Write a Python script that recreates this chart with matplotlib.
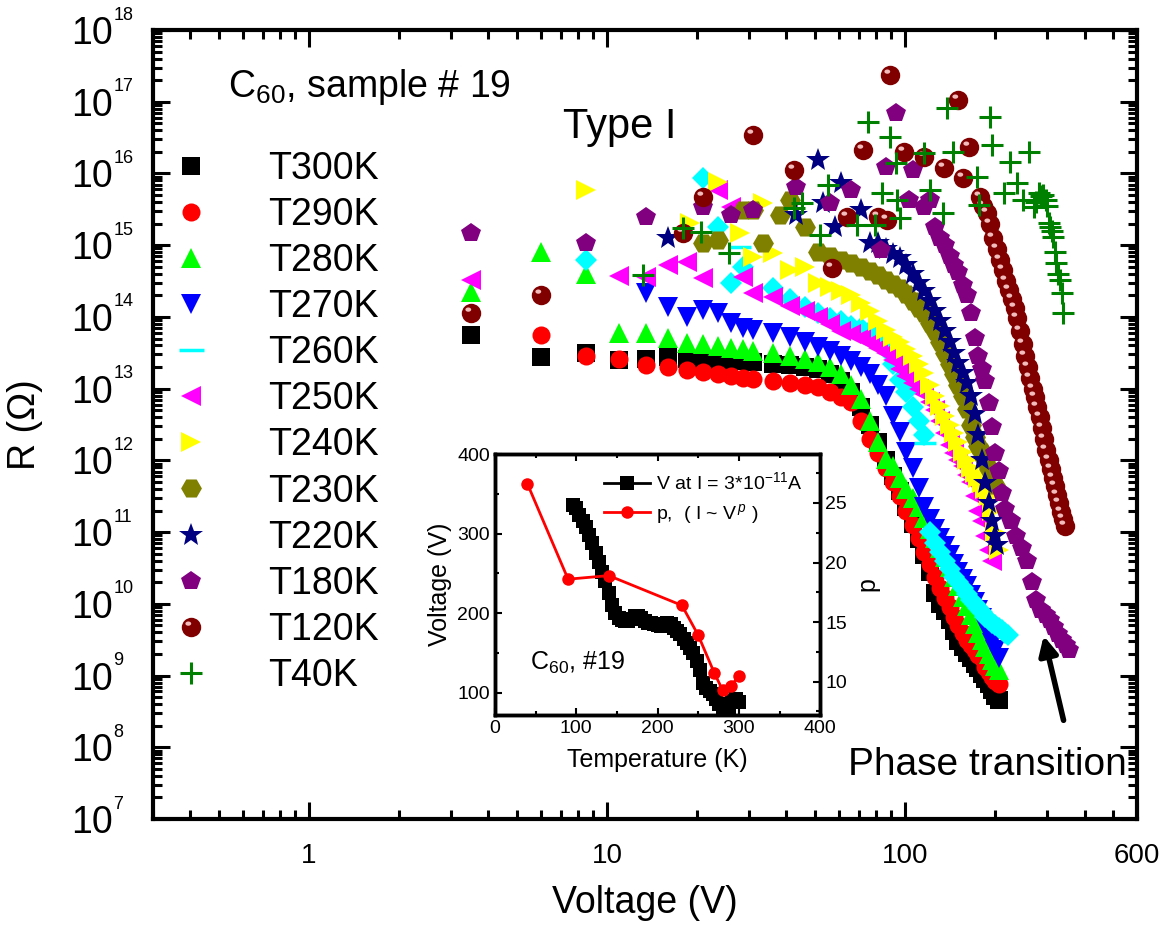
import numpy as np
import matplotlib
matplotlib.use("Agg")
import matplotlib.pyplot as plt
import matplotlib.transforms as mtransforms
from matplotlib.path import Path
from matplotlib.lines import Line2D
from matplotlib.legend_handler import HandlerTuple
from matplotlib.ticker import LogLocator, FixedLocator, NullFormatter, MultipleLocator, FuncFormatter

plt.rcParams['font.family'] = ['Liberation Sans', 'DejaVu Sans']
plt.rcParams['mathtext.fontset'] = 'custom'
plt.rcParams['mathtext.rm'] = 'Liberation Sans'
plt.rcParams['mathtext.it'] = 'Liberation Sans:italic'
plt.rcParams['mathtext.bf'] = 'Liberation Sans:bold'

# -----------------------------------
# R-V data, resistance given as log10(R / Ohm)
# -----------------------------------
V300 = [3.5, 6, 8.5, 11, 13.5, 16, 18.5, 21, 23.5, 26, 28.5, 31,
        36, 41, 46, 51, 56, 61, 66, 71, 76, 81, 86, 91, 96, 101, 106, 111, 116, 121, 126,
        131, 136, 141, 146, 151, 156, 161, 166, 171, 176, 181, 186, 191, 196, 201, 206]
lg300 = [13.75, 13.44, 13.50, 13.40, 13.42, 13.44, 13.42, 13.41, 13.40, 13.39, 13.38, 13.37,
         13.35, 13.33, 13.30, 13.27, 13.20, 13.10, 12.95, 12.75, 12.50, 12.25,
         12.00, 11.78, 11.58, 11.35, 11.12, 10.90, 10.68, 10.45, 10.15, 10.00,
         9.90, 9.78, 9.62, 9.48, 9.40, 9.32, 9.24, 9.16, 9.10, 9.02,
         8.95, 8.88, 8.80, 8.72, 8.66]

V290 = [6, 8.5, 11, 13.5, 16, 18.5, 21, 23.5, 26, 28.5, 31,
        36, 41, 46, 51, 56, 61, 66, 71, 76, 81, 86, 91, 96, 101, 106, 111, 116, 121, 126,
        131, 136, 141, 146, 151, 156, 161, 166, 171, 176, 181, 186, 191, 196, 201, 206]
lg290 = [13.75, 13.45, 13.41, 13.33, 13.30, 13.26, 13.23, 13.20, 13.17, 13.15, 13.13,
         13.11, 13.08, 13.05, 13.02, 12.96, 12.88, 12.82, 12.55, 12.30, 12.10,
         11.90, 11.70, 11.50, 11.30, 11.10, 10.92, 10.72, 10.55, 10.38, 10.22,
         10.08, 9.95, 9.82, 9.70, 9.60, 9.50, 9.42, 9.35, 9.28, 9.25,
         9.12, 9.05, 8.98, 8.93, 8.88]

V280 = [3.5, 6, 8.5, 11, 13.5, 16, 18.5, 21, 23.5, 26, 28.5, 31,
        36, 41, 46, 51, 56, 61, 66, 71, 76, 81, 86, 91, 96, 101, 106, 111, 116, 121, 126,
        131, 136, 141, 146, 151, 156, 161, 166, 171, 176, 181, 186, 191, 196, 201, 206]
lg280 = [14.35, 14.90, 14.60, 13.77, 13.77, 13.70, 13.64, 13.62, 13.60, 13.57, 13.55, 13.53,
         13.50, 13.46, 13.42, 13.37, 13.30, 13.20, 13.05, 12.85, 12.55, 12.25,
         12.02, 11.92, 11.75, 11.60, 11.48, 11.35, 11.20, 11.05, 10.92, 10.78,
         10.65, 10.52, 10.38, 10.25, 10.10, 9.97, 9.85, 9.72, 9.60, 9.50,
         9.40, 9.30, 9.22, 9.14, 9.08]

V270 = [13.5, 16, 18.5, 21, 23.5, 26, 28.5, 31,
        36, 41, 46, 51, 56, 61, 66, 71, 76, 81, 86, 91, 96, 101, 106, 111, 116, 121, 126,
        131, 136, 141, 146, 151, 156, 161, 166, 171, 176, 181, 186, 191, 196, 201, 206]
lg270 = [14.33, 14.14, 14.00, 14.10, 14.05, 13.91, 13.85, 13.82,
         13.77, 13.72, 13.65, 13.58, 13.52, 13.45, 13.38, 13.30, 13.20, 13.05,
         12.90, 12.62, 12.40, 12.12, 11.90, 11.62, 11.35, 11.18, 11.05, 10.92,
         10.80, 10.68, 10.55, 10.45, 10.35, 10.25, 10.12, 10.02, 9.92, 9.80,
         9.68, 9.58, 9.45, 9.35, 9.25]

V260 = [8.5, 21, 23.5, 26, 28.5,
        36, 41, 46, 51, 56, 61, 66, 71, 76, 81, 86, 91, 96, 101, 106, 111, 116, 121, 126,
        131, 136, 141, 146, 151, 156, 161, 166, 171, 176, 181, 186, 191, 196, 201, 206,
        211, 216, 221]
lg260 = [14.79, 15.94, 15.25, 14.47, 14.69,
         14.41, 14.25, 14.14, 14.05, 13.98, 13.95, 13.88, 13.84, 13.80, 13.72,
         13.55, 13.35, 13.12, 12.95, 12.75, 12.55, 12.35, 11.00, 10.85, 10.72,
         10.60, 10.48, 10.38, 10.30, 10.22, 10.14, 10.06, 10.00, 9.94, 9.88,
         9.82, 9.78, 9.74, 9.70, 9.66, 9.63, 9.60, 9.57]
V260_dash = [28, 117]
lg260_dash = [14.97, 12.24]

V250 = [3.5, 11, 13.5, 16, 18.5, 21, 23.5, 26, 28.5, 31,
        36, 41, 46, 51, 56, 61, 66, 71, 76, 81, 86, 91, 96, 101, 106, 111, 116, 121, 126,
        131, 136, 141, 146, 151, 156, 161, 166, 171, 176, 181, 186, 191, 196]
lg250 = [14.51, 14.57, 14.56, 14.72, 14.76, 14.54, 15.77, 15.53, 14.56, 14.33,
         14.28, 14.15, 14.08, 14.00, 13.90, 13.80, 13.76, 13.70, 13.64, 13.57,
         13.50, 13.40, 13.28, 13.18, 13.08, 13.00, 12.93, 12.82, 12.70, 12.55,
         12.38, 12.22, 12.10, 12.00, 11.92, 11.80, 11.70, 11.50, 11.30, 11.15,
         10.95, 10.75, 10.60]

V240 = [8.5, 19, 23.5, 28, 31, 33.5,
        36, 41, 46, 51, 56, 61, 66, 71, 76, 81, 86, 91, 96, 101, 106, 111, 116, 121, 126,
        131, 136, 141, 146, 151, 156, 161, 166, 171, 176, 181, 186, 191, 196, 201, 206]
lg240 = [15.77, 15.31, 15.88, 15.17, 14.83, 15.59,
         14.89, 14.65, 14.69, 14.47, 14.42, 14.36, 14.30, 14.20, 14.08, 13.95,
         13.82, 13.72, 13.65, 13.55, 13.45, 13.35, 13.22, 13.05, 12.90, 12.76,
         12.62, 12.50, 12.38, 12.25, 12.12, 12.00, 11.90, 11.82, 11.75, 11.68,
         11.60, 11.50, 11.30, 11.00, 10.75]

V230 = [21, 23.5, 28.5, 31, 33.5, 38,
        41, 46, 51, 56, 61, 66, 71, 76, 81, 86, 91, 96, 101, 106, 111, 116, 121, 126,
        131, 136, 141, 146, 151, 156, 161, 166, 171, 176, 181, 186, 191, 196, 201]
lg230 = [15.03, 15.07, 15.49, 15.49, 15.03, 15.42,
         15.63, 15.25, 14.90, 14.85, 14.80, 14.75, 14.70, 14.64, 14.58, 14.52,
         14.46, 14.40, 14.32, 14.22, 14.12, 14.05, 13.92, 13.80, 13.65, 13.50,
         13.35, 13.20, 13.05, 12.90, 12.72, 12.50, 12.32, 12.20, 12.12, 12.00,
         11.88, 11.75, 11.65]

V220 = [16, 43, 51, 53, 58, 61, 71,
        76, 81, 86, 91, 96, 101, 106, 111, 116, 121, 126,
        131, 136, 141, 146, 151, 156, 161, 166, 171, 176, 181, 186, 191, 196, 201, 204]
lg220 = [15.10, 15.42, 16.19, 15.59, 15.25, 15.87, 15.49,
         15.03, 15.03, 14.95, 14.88, 14.82, 14.72, 14.60, 14.48, 14.36, 14.22,
         14.08, 13.95, 13.80, 13.65, 13.50, 13.36, 13.22, 13.08, 12.90, 12.65,
         12.35, 12.00, 11.68, 11.40, 11.15, 10.95, 10.82]

V180 = [3.5, 8.5, 13.5, 21, 26, 31, 43, 56, 66,
        83, 86, 93, 103, 106,
        116, 121, 126, 131, 136, 141, 146, 151, 156, 161, 166, 171, 176, 181, 186,
        191, 196, 201, 206, 211, 216,
        226, 236, 246, 256, 266, 276, 286, 296, 306, 316, 326, 336, 346, 356]
lg180 = [15.17, 15.03, 15.39, 15.53, 15.42, 15.49, 15.81, 15.59, 15.77,
         14.93, 16.09, 16.84, 15.63, 16.05,
         15.53, 15.63, 15.25, 15.10, 15.00, 14.85, 14.72, 14.62, 14.45, 14.30,
         14.05, 13.70, 13.45, 13.28, 13.10, 12.80, 12.46, 12.10, 11.85, 11.55, 11.32,
         11.15, 10.95, 10.78, 10.60, 10.30, 10.05, 9.92, 9.85, 9.78, 9.68,
         9.58, 9.50, 9.42, 9.35]

V120 = [3.5, 6, 18, 21, 31, 42.5, 57, 64, 72, 81, 87, 89, 99, 116, 135, 150, 157, 164,
        178, 183, 188, 193, 198, 203, 208, 213, 218, 223, 228, 233, 238, 243, 248, 253,
        258, 263, 268, 273, 278, 283, 288, 293, 298, 303, 308, 313, 318, 323, 328, 333,
        338, 343]
lg120 = [14.05, 14.30, 15.17, 15.67, 16.54, 16.05, 14.68, 15.39, 16.33, 15.39, 15.35, 17.37,
         16.30, 16.23, 16.08, 17.02, 15.94, 16.37,
         15.67, 15.55, 15.45, 15.30, 15.10, 14.95, 14.80, 14.65, 14.50, 14.38,
         14.25, 14.12, 13.98, 13.80, 13.62, 13.45, 13.30, 13.15, 13.00, 12.88,
         12.75, 12.60, 12.45, 12.30, 12.15, 12.00, 11.88, 11.76, 11.64, 11.52,
         11.40, 11.28, 11.18, 11.08]

V40 = [13.2, 18, 20.7, 25.7, 42.5, 45, 52, 55, 69, 75, 79, 84, 89, 93, 94, 96, 116, 121,
       134, 138, 145, 174, 177, 192, 195, 214, 225, 237, 248, 260, 270, 276, 281, 286,
       291, 297, 300, 303, 306, 310, 314, 318, 322, 326, 330, 335, 338]
lg40 = [14.58, 15.24, 15.18, 14.89, 15.52, 15.59, 15.14, 15.84, 15.28, 16.72, 15.28, 15.73,
        16.51, 16.14, 15.63, 15.38, 16.28, 15.77, 15.45, 16.91, 16.30, 15.95, 15.56, 16.79,
        16.40, 15.73, 16.16, 15.87, 15.63, 16.30, 15.53, 15.60, 15.73, 15.68, 15.70, 15.63,
        15.55, 15.31, 15.25, 15.20, 15.11, 14.90, 14.75, 14.60, 14.51, 14.33, 14.05]

# -----------------------------------
# Inset data
# -----------------------------------
T_V = [96, 100, 104, 108, 112, 116, 120, 124, 128, 132, 136, 140, 144, 148, 152, 156,
       160, 164, 168, 172, 176, 180, 184, 188, 192, 196, 200, 204, 208, 212, 216, 220,
       224, 228, 232, 236, 240, 244, 248, 252, 256, 260, 264, 268, 272, 276, 280, 284,
       288, 292, 296, 300]
V_at_I = [336, 332, 324, 316, 308, 298, 288, 276, 264, 252, 240, 226, 210, 200, 194, 191,
          190, 190, 193, 197, 196, 194, 190, 188, 188, 187, 185, 184, 186, 188, 187, 182,
          178, 174, 168, 162, 156, 150, 140, 128, 112, 106, 102, 98, 92, 86, 80, 78,
          82, 90, 92, 88]
T_p = [40, 90, 140, 230, 250, 270, 280, 290, 300]
p_vals = [26.6, 18.6, 18.9, 16.4, 13.9, 10.7, 9.3, 9.6, 10.5]

xtick_vals = [1, 10, 100, 600]
xtick_labels = ["1", "10", "100", "600"]
y_decades = list(range(7, 19))

# sphere highlight marker (small light ellipse up-left of centre)
t = np.linspace(0, 2 * np.pi, 24)
hl_verts = [(-1, -1), (1, 1)] + list(zip(-0.33 + 0.30 * np.cos(t), 0.40 + 0.22 * np.sin(t)))
hl_codes = [Path.MOVETO, Path.MOVETO, Path.MOVETO] + [Path.LINETO] * 22 + [Path.CLOSEPOLY]
highlight = Path(hl_verts, hl_codes)

series = [
    ("T300K", V300, lg300, 's', 'black', 13),
    ("T290K", V290, lg290, 'o', 'red', 13),
    ("T280K", V280, lg280, '^', '#00ff00', 14),
    ("T270K", V270, lg270, 'v', '#0000ff', 14),
    ("T260K", V260, lg260, 'D', '#00ffff', 11),
    ("T250K", V250, lg250, '<', '#ff00ff', 14),
    ("T240K", V240, lg240, '>', '#ffff00', 14),
    ("T230K", V230, lg230, 'H', '#808000', 15),
    ("T220K", V220, lg220, '*', '#000080', 18),
    ("T180K", V180, lg180, 'p', '#800080', 15),
    ("T120K", V120, lg120, 'o', '#800000', 14),
    ("T40K", V40, lg40, '+', '#008000', 16),
]

fig = plt.figure(figsize=(11.7, 9.32), dpi=100)
ax = fig.add_axes([0.1308, 0.1212, 0.841, 0.8466])

handles = []
for name, v, lg, m, c, ms in series:
    r = 10 ** np.array(lg)
    if m == '+':
        ax.plot(v, r, ls='none', marker=m, color=c, ms=ms, mew=2.2)
        handles.append(Line2D([], [], ls='none', marker=m, color=c, ms=ms, mew=2.2))
    else:
        ax.plot(v, r, ls='none', marker=m, color=c, ms=ms, mew=0)
        h = Line2D([], [], ls='none', marker=m, color=c, ms=ms, mew=0)
        if name == "T260K":
            ax.plot(V260_dash, 10 ** np.array(lg260_dash), ls='none', marker='_',
                    color=c, ms=16, mew=2.5)
            h = Line2D([], [], ls='none', marker='_', color=c, ms=18, mew=2.5)
        if name == "T120K":
            ax.plot(v, r, ls='none', marker=highlight, color='#f2bcbc', ms=ms, mew=0)
            h = (h, Line2D([], [], ls='none', marker=highlight, color='#f2bcbc', ms=ms, mew=0))
        handles.append(h)

ax.set_xscale('log')
ax.set_yscale('log')
ax.set_xlim(0.3, 600)
ax.set_ylim(1e7, 1e18)

ax.xaxis.set_major_locator(FixedLocator(xtick_vals))
ax.set_xticklabels(xtick_labels)
ax.xaxis.set_minor_locator(LogLocator(base=10, subs=np.arange(2, 10), numticks=50))
ax.xaxis.set_minor_formatter(NullFormatter())
ax.yaxis.set_major_locator(FixedLocator([10.0 ** k for k in y_decades]))
ax.yaxis.set_minor_locator(LogLocator(base=10, subs=np.arange(2, 10), numticks=50))
ax.yaxis.set_minor_formatter(NullFormatter())
ax.yaxis.set_major_formatter(FuncFormatter(lambda val, pos: "10"))

ax.tick_params(which='both', direction='in', top=True, right=True, width=2.2)
ax.tick_params(which='major', length=12)
ax.tick_params(which='minor', length=6.5)
ax.tick_params(axis='y', labelsize=27, pad=29)
ax.tick_params(axis='x', labelsize=20, pad=17)
for s in ax.spines.values():
    s.set_linewidth(3)

# small exponents next to the "10" tick labels
exp_trans = mtransforms.offset_copy(
    mtransforms.blended_transform_factory(ax.transAxes, ax.transData),
    fig=fig, x=0, y=15, units='dots')
for k in y_decades:
    ax.text(-0.0405, 10.0 ** k, str(k), transform=exp_trans, fontsize=13,
            ha='left', va='center', clip_on=False)

ax.set_xlabel("Voltage (V)", fontsize=27, labelpad=12)
ax.set_ylabel("R (Ω)", fontsize=27, labelpad=20)

labels = [s[0] for s in series]
ax.legend(handles, labels, loc='upper left', bbox_to_anchor=(0.0, 0.847), frameon=False,
          fontsize=27, handlelength=2.0, handletextpad=1.08, labelspacing=0.27,
          borderpad=0, borderaxespad=0, numpoints=1,
          handler_map={tuple: HandlerTuple(ndivide=1)})

ax.text(0.076, 0.915, r'C$_{60}$, sample # 19', transform=ax.transAxes, fontsize=27,
        va='baseline')
ax.text(0.4167, 0.877, 'Type I', transform=ax.transAxes, fontsize=30, va='center')
ax.text(0.706, 0.068, 'Phase transition', transform=ax.transAxes, fontsize=28, va='center')
ax.annotate('', xy=(0.9045, 0.2357), xytext=(0.926, 0.1217), xycoords='axes fraction',
            arrowprops=dict(arrowstyle='-|>', lw=4, color='black', mutation_scale=28))

# -----------------------------------
# Inset: V at fixed current and exponent p vs temperature
# -----------------------------------
axi = fig.add_axes([0.423, 0.2328, 0.278, 0.280])
axi.set_facecolor('white')
l1, = axi.plot(T_V, V_at_I, color='black', marker='s', ms=9.5, lw=2, mew=0,
               label=r'V at I = 3*10$^{-11}$A')
axp = axi.twinx()
l2, = axp.plot(T_p, p_vals, color='red', marker='o', ms=9, lw=2, mew=0,
               label=r'p,  ( I ~ V$^{\,p}$ )')

axi.set_xlim(0, 400)
axi.set_ylim(72, 400)
axp.set_ylim(7.2, 29.1)
axi.xaxis.set_major_locator(MultipleLocator(100))
axi.xaxis.set_minor_locator(MultipleLocator(50))
axi.yaxis.set_major_locator(MultipleLocator(100))
axi.yaxis.set_minor_locator(MultipleLocator(50))
axp.yaxis.set_major_locator(MultipleLocator(5))
axp.yaxis.set_minor_locator(MultipleLocator(2.5))
axi.tick_params(which='both', direction='in', top=True, width=1.5, labelsize=14)
axi.tick_params(which='major', length=5)
axi.tick_params(which='minor', length=3)
axp.tick_params(which='both', direction='in', width=1.5, labelsize=14)
axp.tick_params(which='major', length=5)
axp.tick_params(which='minor', length=3)
for a in (axi, axp):
    for s in a.spines.values():
        s.set_linewidth(2.5)

axi.set_xlabel("Temperature (K)", fontsize=18, labelpad=8)
axi.set_ylabel("Voltage (V)", fontsize=18, labelpad=4)
axp.set_ylabel("p", fontsize=18, labelpad=6)
axi.text(0.108, 0.172, r'C$_{60}$, #19', transform=axi.transAxes, fontsize=18)
axp.legend([l1, l2], [l1.get_label(), l2.get_label()], loc='upper right', frameon=False,
           fontsize=14, handlelength=2.4, handletextpad=0.3, labelspacing=0.45,
           borderaxespad=0.5, numpoints=1)

fig.savefig("out.png", dpi=100)
